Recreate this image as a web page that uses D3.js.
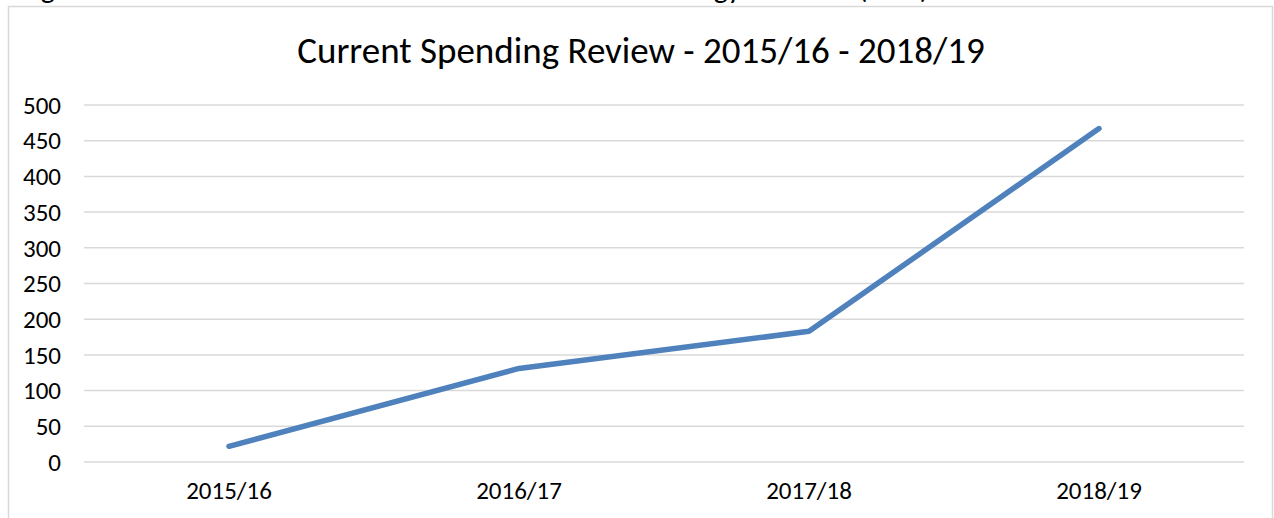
<!DOCTYPE html>
<html><head><meta charset="utf-8">
<script src="https://cdn.jsdelivr.net/npm/d3@7"></script>
<style>body{margin:0;background:#fff;overflow:hidden}</style>
</head><body><svg id="c" width="1274" height="518"></svg>
<script>
const categories = ["2015/16","2016/17","2017/18","2018/19"];
const values = [22,131,183,467];
const yTicks = [0,50,100,150,200,250,300,350,400,450,500];
const title = "Current Spending Review - 2015/16 - 2018/19";
const caption = "Figure 1 - Cumulative total of Low Carbon and Clean Energy Installed (MW)";

const svg = d3.select("#c");
const font = "Carlito, 'Open Sans', 'Liberation Sans', sans-serif";

svg.append("text").attr("x",20).attr("y",-2).attr("font-family",font)
  .attr("font-size",30).attr("fill","#000").text(caption);

svg.append("rect").attr("x",8.5).attr("y",6.5).attr("width",1264).attr("height",530)
  .attr("fill","#fff").attr("stroke","#d9d9d9").attr("stroke-width",1.5);

const x=d3.scaleBand().domain(categories).range([84,1244]);
const y=d3.scaleLinear().domain([0,500]).range([462,105]);

svg.append("g").selectAll("line").data(yTicks).join("line")
  .attr("x1",84).attr("x2",1244).attr("y1",d=>y(d)).attr("y2",d=>y(d))
  .attr("stroke","#d9d9d9").attr("stroke-width",1.5);

const ya=svg.append("g").attr("transform","translate(84,0)")
  .call(d3.axisLeft(y).tickValues(yTicks).tickSize(0).tickPadding(23));
ya.select(".domain").remove();
ya.selectAll("text").attr("font-family",font).attr("font-size",25).attr("fill","#000").attr("dy","0.33em");

const xa=svg.append("g").attr("transform","translate(0,462)")
  .call(d3.axisBottom(x).tickSize(0).tickPadding(19));
xa.select(".domain").remove();
xa.selectAll("text").attr("font-family",font).attr("font-size",25).attr("fill","#000");

const line=d3.line().x((d,i)=>x(categories[i])+x.bandwidth()/2).y(d=>y(d));
svg.append("path").datum(values).attr("d",line).attr("fill","none")
  .attr("stroke","#4f81bd").attr("stroke-width",5.5).attr("stroke-linecap","round").attr("stroke-linejoin","round");

svg.append("text").attr("x",641).attr("y",63).attr("text-anchor","middle")
  .attr("font-family",font).attr("font-size",37).attr("fill","#000").text(title);
</script></body></html>
